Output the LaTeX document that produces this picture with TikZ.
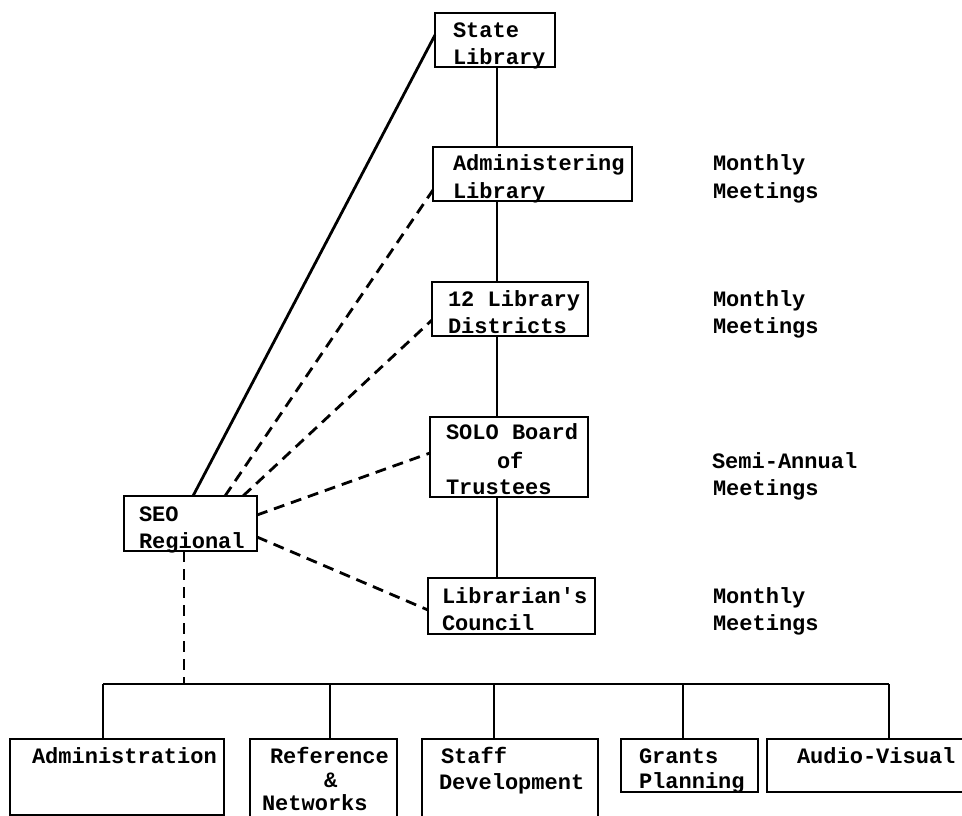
\documentclass[tikz,border=0pt]{standalone}
\usepackage{fontspec}
\newfontfamily\typew{Liberation Mono}
\begin{document}
\begin{tikzpicture}[x=1pt,y=-1pt,
  box/.style={draw, line width=2.2pt, rectangle, inner sep=0pt, outer sep=0pt, anchor=north west},
  txt/.style={inner sep=0pt, outer sep=0pt, anchor=base west, font=\typew\bfseries\fontsize{22}{26}\selectfont},
  conn/.style={line width=2.8pt},
  dconn/.style={line width=2.8pt, dash pattern=on 11pt off 7pt}]
\fill[white] (0,0) rectangle (962,816);
\useasboundingbox (0,0) rectangle (962,816);

% boxes
\node[box, minimum width=120pt, minimum height=54pt] (state) at (435,13) {};
\node[box, minimum width=199pt, minimum height=54pt] (admin) at (433,147) {};
\node[box, minimum width=156pt, minimum height=54pt] (dist) at (432,282) {};
\node[box, minimum width=158pt, minimum height=80pt] (solo) at (430,417) {};
\node[box, minimum width=167pt, minimum height=56pt] (libc) at (428,578) {};
\node[box, minimum width=133pt, minimum height=55pt] (seo) at (124,496) {};
\node[box, minimum width=214pt, minimum height=76pt] (adm) at (10,739) {};
\node[box, minimum width=147pt, minimum height=100pt] (ref) at (250,739) {};
\node[box, minimum width=176pt, minimum height=100pt] (staff) at (422,739) {};
\node[box, minimum width=137pt, minimum height=53pt] (grants) at (621,739) {};
\node[box, minimum width=230pt, minimum height=53pt] (av) at (767,739) {};

% texts
\node[txt] (t1) at (453,38) {State};
\node[txt] (t2) at (453,65) {Library};
\node[txt] (t3) at (453,170) {Administering};
\node[txt] (t4) at (453,198) {Library};
\node[txt] (t5) at (448,306) {12 Library};
\node[txt] (t6) at (448,333) {Districts};
\node[txt] (t7) at (446,439) {SOLO Board};
\node[txt] (t8) at (497,468) {of};
\node[txt] (t9) at (446,494) {Trustees};
\node[txt] (t10) at (442,603) {Librarian's};
\node[txt] (t11) at (442,630) {Council};
\node[txt] (t12) at (139,521) {SEO};
\node[txt] (t13) at (139,548) {Regional};
\node[txt] (m1) at (713,170) {Monthly};
\node[txt] (m2) at (713,198) {Meetings};
\node[txt] (m3) at (713,306) {Monthly};
\node[txt] (m4) at (713,333) {Meetings};
\node[txt] (m5) at (712,468) {Semi-Annual};
\node[txt] (m6) at (713,495) {Meetings};
\node[txt] (m7) at (713,603) {Monthly};
\node[txt] (m8) at (713,630) {Meetings};
\node[txt] (b1) at (32,763) {Administration};
\node[txt] (b2) at (270,763) {Reference};
\node[txt] (b3) at (324,787) {\&};
\node[txt] (b4) at (262,810) {Networks};
\node[txt] (b5) at (441,763) {Staff};
\node[txt] (b6) at (439,789) {Development};
\node[txt] (b7) at (639,763) {Grants};
\node[txt] (b8) at (639,788) {Planning};
\node[txt] (b9) at (797,763) {Audio-Visual};

% spine
\coordinate (spine) at (497,0);
\draw[conn] (state.south -| spine) -- (admin.north -| spine);
\draw[conn] (admin.south -| spine) -- (dist.north -| spine);
\draw[conn] (dist.south -| spine) -- (solo.north -| spine);
\draw[conn] (solo.south -| spine) -- (libc.north -| spine);

% SEO links
\draw[conn] ([xshift=69pt]seo.north west) -- ([yshift=5pt]state.west);
\draw[dconn] ([xshift=101pt]seo.north west) -- ([yshift=-16pt]admin.west);
\draw[dconn] ([xshift=119pt]seo.north west) -- ([yshift=-11pt]dist.west);
\draw[dconn] ([yshift=8.5pt]seo.east) -- ([yshift=4pt]solo.west);
\draw[dconn] ([yshift=-13.5pt]seo.east) -- ([yshift=-4pt]libc.west);

% bus
\coordinate (dA) at (103,684);
\coordinate (dR) at (330,684);
\coordinate (dS) at (494,684);
\coordinate (dG) at (683,684);
\coordinate (dV) at (889,684);
\draw[dconn] ([xshift=-6.5pt]seo.south) -- ([xshift=-6.5pt]seo.south |- dA);
\draw[conn] (dA) -- (dV);
\draw[conn] (dA) -- (dA |- adm.north);
\draw[conn] (dR) -- (dR |- ref.north);
\draw[conn] (dS) -- (dS |- staff.north);
\draw[conn] (dG) -- (dG |- grants.north);
\draw[conn] (dV) -- (dV |- av.north);
\end{tikzpicture}
\end{document}
